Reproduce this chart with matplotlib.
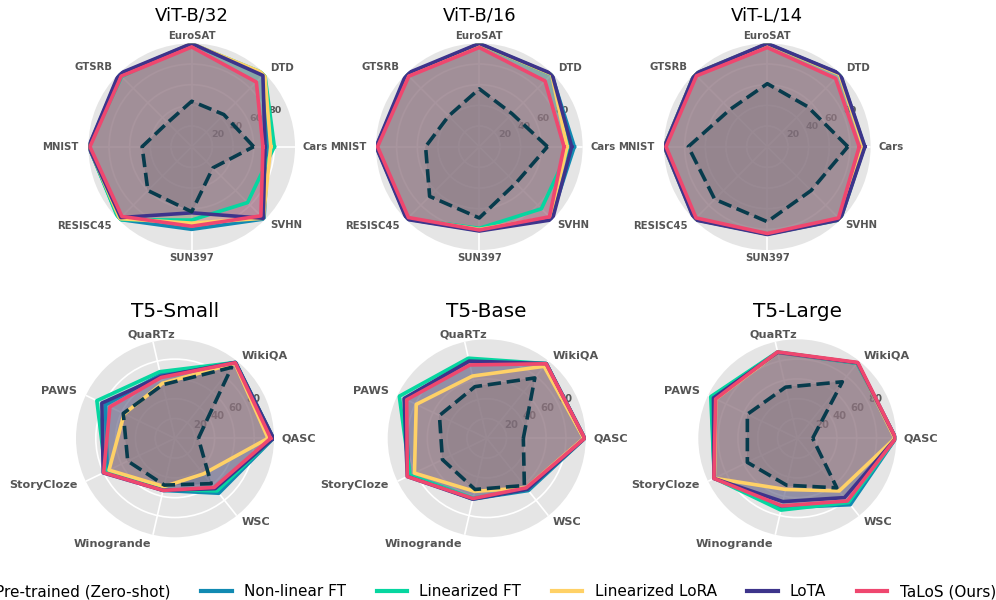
import numpy as np
import matplotlib
matplotlib.use("Agg")
import matplotlib.pyplot as plt
from matplotlib.lines import Line2D

plt.style.use("ggplot")

# ============================================================
# DADOS
# ============================================================

VIT_TASKS = ["Cars", "DTD", "EuroSAT", "GTSRB", "MNIST", "RESISC45", "SUN397", "SVHN"]
T5_TASKS = ["QASC", "WikiQA", "QuaRTz", "PAWS", "StoryCloze", "Winogrande", "WSC"]

METHODS = ["Pre-trained (Zero-shot)", "Non-linear FT", "Linearized FT",
           "Linearized LoRA", "LoTA", "TaLoS (Ours)"]
COLORS = ["#073b4c", "#118ab2", "#06d6a0", "#ffd166", "#3d348b", "#ef476f"]

# ViT-B/32
b32_zs = [60, 44, 44, 33, 48, 60, 63, 29]
b32_ft = [74, 99, 99.5, 99, 99.6, 99.5, 80, 99]
b32_lin = [80, 100, 99.5, 96, 99.5, 100, 71, 76.5]
b32_lora = [76.5, 100, 99.8, 98, 99.5, 98.5, 74, 98]
b32_lota = [71, 97.5, 99.9, 99.8, 99.9, 97, 64, 98]
b32_talos = [69, 88.5, 96.5, 96.5, 98.5, 95.5, 77, 94.7]

# ViT-B/16
b16_zs = [66, 45, 56, 42, 52, 68, 69, 50]
b16_ft = [92, 99, 99.5, 99, 99.6, 99, 81, 98]
b16_lin = [88, 99, 99.5, 98, 99.5, 98.5, 79, 85]
b16_lora = [85, 99, 99.5, 98.5, 99.5, 98.5, 80, 97]
b16_lota = [89.4, 99.7, 100, 100, 100, 99.5, 81.6, 100]
b16_talos = [82, 90, 96, 96.5, 98.5, 97, 80.6, 96]

# ViT-L/14
l14_zs = [78, 55, 61, 51, 76.5, 72, 72.6, 60]
l14_ft = [94, 99.5, 99.5, 99.5, 99.6, 99.5, 84.5, 99.5]
l14_lin = [94, 99.5, 99.5, 99.5, 99.6, 99.5, 84.5, 100]
l14_lora = [93, 99, 99.5, 99.5, 99.6, 99.5, 84.5, 99.5]
l14_lota = [94.5, 100, 100, 99.7, 99.7, 100, 85, 100]
l14_talos = [89, 93.5, 96, 97, 98, 97.5, 84, 97.5]

# T5-Small
t5s_zs = [23.6, 91.6, 55.5, 58, 53, 48.5, 58.6]
t5s_ft = [99.4, 98, 66, 78, 76, 54, 71]
t5s_lin = [99, 98, 69, 87.6, 78, 53, 68]
t5s_lora = [94, 97, 57, 57, 74, 50, 46]
t5s_lota = [99.4, 98, 64, 82, 80.5, 54, 65]
t5s_talos = [96.6, 97.6, 63, 73, 80, 54, 63.5]

# T5-Base
t5b_zs = [37, 78, 53.5, 53, 49.6, 53, 61]
t5b_ft = [99, 96.5, 80, 92, 87, 63, 67.5]
t5b_lin = [99, 96.5, 83, 98, 86, 62, 66]
t5b_lora = [98, 93, 64.5, 79, 81, 55, 64]
t5b_lota = [99, 96.5, 80, 92.6, 89, 63, 66]
t5b_talos = [99, 96.3, 76, 89.7, 89, 62.4, 64]

# T5-Large
t5l_zs = [15.5, 73, 53, 56, 56, 48.6, 64]
t5l_ft = [99.5, 97, 89, 96, 93, 72, 85.8]
t5l_lin = [99.5, 97, 89.5, 97, 93, 74.4, 83]
t5l_lora = [98.5, 97.5, 89, 91.5, 93, 53, 68]
t5l_lota = [99.5, 97.5, 89, 94, 93.5, 65.6, 76.6]
t5l_talos = [99.5, 98, 89.5, 91.6, 93.5, 70, 81]

PANELS = [
    ("ViT-B/32", VIT_TASKS, [b32_zs, b32_ft, b32_lin, b32_lora, b32_lota, b32_talos]),
    ("ViT-B/16", VIT_TASKS, [b16_zs, b16_ft, b16_lin, b16_lora, b16_lota, b16_talos]),
    ("ViT-L/14", VIT_TASKS, [l14_zs, l14_ft, l14_lin, l14_lora, l14_lota, l14_talos]),
    ("T5-Small", T5_TASKS, [t5s_zs, t5s_ft, t5s_lin, t5s_lora, t5s_lota, t5s_talos]),
    ("T5-Base", T5_TASKS, [t5b_zs, t5b_ft, t5b_lin, t5b_lora, t5b_lota, t5b_talos]),
    ("T5-Large", T5_TASKS, [t5l_zs, t5l_ft, t5l_lin, t5l_lora, t5l_lota, t5l_talos]),
]

# ============================================================
# LAYOUT (pixels)
# ============================================================

W, H = 996, 600
# (cx, cy, raio, baseline do titulo)
CENTERS = [(191.7, 146.7, 103.3, 20.7), (479.3, 146.7, 103.3, 20.7),
           (767.3, 146.7, 103.3, 20.7),
           (175.0, 438.3, 99.0, 316.7), (486.7, 438.3, 99.0, 316.7),
           (797.3, 438.3, 99.0, 316.7)]

# tamanhos de fonte por linha: (titulo, tarefas, eixo radial)
FONTS = {8: (13.0, 7.3, 6.8), 7: (14.4, 8.1, 7.3)}

HA = {
    8: ["left", "left", "center", "right", "right", "right", "center", "left"],
    7: ["left", "left", "center", "right", "right", "right", "left"],
}
LABEL_GAP = 7.5  # px fora do circulo
EXTRA_RIGHT = 2.0  # px extra para rotulos alinhados a direita

# ============================================================
# FIGURA
# ============================================================

fig = plt.figure(figsize=(W / 100, H / 100), dpi=100)

for (title, tasks, rows), (cx, cy, r, tb) in zip(PANELS, CENTERS):
    ax = fig.add_axes([(cx - r) / W, 1 - (cy + r) / H, 2 * r / W, 2 * r / H],
                      projection="polar")
    n = len(tasks)
    fs_title, fs_task, fs_r = FONTS[n]
    ang = np.linspace(0, 2 * np.pi, n, endpoint=False)
    closed = np.append(ang, ang[0])

    for i, vals in enumerate(rows):
        v = np.append(vals, vals[0])
        ax.fill(closed, v, color=COLORS[i], alpha=0.25, zorder=1)
        if i == 0:
            ax.plot(closed, v, color=COLORS[i], lw=2.6, ls="--", zorder=10)
        else:
            ax.plot(closed, v, color=COLORS[i], lw=2.6, zorder=3 + i)

    ax.set_ylim(0, 100)
    ax.set_xticks(ang)
    ax.set_xticklabels([])
    ax.set_yticks([20, 40, 60, 80])
    ax.set_yticklabels(["20", "40", "60", "80"], fontsize=fs_r,
                       fontweight="bold", color="#555555")
    ax.set_rlabel_position(180 / n)
    ax.grid(color="white", linewidth=1.2)
    ax.spines["polar"].set_visible(False)

    # rotulos das tarefas
    for a, lab, ha in zip(ang, tasks, HA[n]):
        gap = LABEL_GAP + (EXTRA_RIGHT if ha == "right" else 0)
        k = 0.5 + gap / (2 * r)
        ax.text(0.5 + k * np.cos(a), 0.5 + k * np.sin(a), lab,
                transform=ax.transAxes, ha=ha, va="center",
                fontsize=fs_task, fontweight="bold", color="#555555")

    ax.set_title(title, fontsize=fs_title, color="black", pad=0,
                 y=1 + (cy - r - tb) / (2 * r))

# ============================================================
# LEGENDA
# ============================================================

handles = []
for i, m in enumerate(METHODS):
    handles.append(Line2D([0], [0], color=COLORS[i], lw=3,
                          ls="--" if i == 0 else "-"))

fig.legend(handles, METHODS, loc="center", bbox_to_anchor=(0.476, 1 - 591.7 / H),
           ncol=6, frameon=False, fontsize=11)

fig.savefig("out.png", dpi=100)
plt.close()
